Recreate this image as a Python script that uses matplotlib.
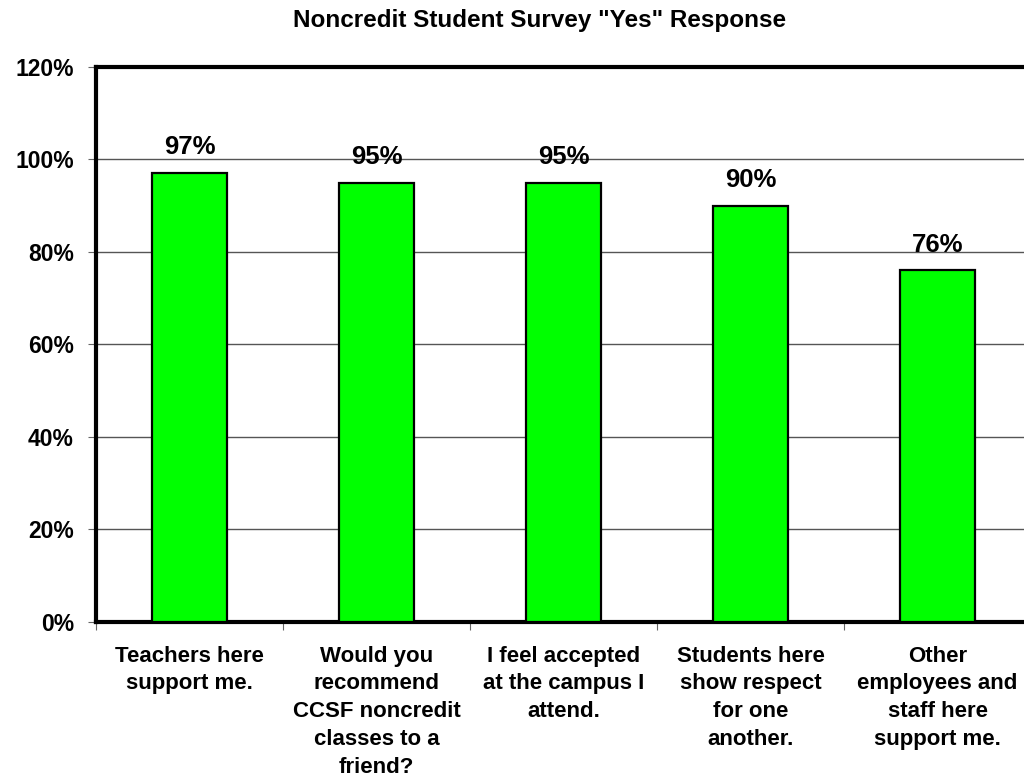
import matplotlib
matplotlib.use("Agg")
import matplotlib.pyplot as plt
from matplotlib.ticker import MultipleLocator, FuncFormatter

plt.rcParams['font.family'] = ['Liberation Sans', 'DejaVu Sans']
plt.rcParams['font.weight'] = 'bold'

categories = [
    "Teachers here\nsupport me.",
    "Would you\nrecommend\nCCSF noncredit\nclasses to a\nfriend?",
    "I feel accepted\nat the campus I\nattend.",
    "Students here\nshow respect\nfor one\nanother.",
    "Other\nemployees and\nstaff here\nsupport me.",
]
yes_pct = [97, 95, 95, 90, 76]
title = 'Noncredit Student Survey "Yes" Response'

fig = plt.figure(figsize=(10.24, 7.77), dpi=100)
ax = fig.add_axes([0.09375, 0.1995, 0.9131, 0.7143])

x = list(range(len(categories)))
bars = ax.bar(x, yes_pct, width=0.4, color='#00ff00', edgecolor='black',
              linewidth=1.6, zorder=3)

for xi, v in zip(x, yes_pct):
    ax.annotate(f"{v}%", (xi, v), xytext=(0, 10), textcoords='offset points',
                ha='center', va='bottom', fontsize=18.5, fontweight='bold')

ax.set_xlim(-0.5, len(categories) - 0.5)
ax.set_ylim(0, 120)
ax.yaxis.set_major_locator(MultipleLocator(20))
ax.yaxis.set_major_formatter(FuncFormatter(lambda v, p: f"{int(v)}%"))
ax.yaxis.grid(True, color='#555555', linewidth=1.0, zorder=0)

ax.set_xticks([i - 0.5 for i in range(len(categories) + 1)])
ax.set_xticklabels([])
ax.set_xticks(x, minor=True)
ax.set_xticklabels(categories, minor=True, fontsize=16, fontweight='bold',
                   linespacing=1.43)
ax.tick_params(axis='x', which='minor', length=0, pad=17)
ax.tick_params(axis='x', which='major', length=6, color='#666666', direction='out')
ax.tick_params(axis='y', length=6, color='#666666', direction='out',
               labelsize=16.5, pad=10)
for lab in ax.get_yticklabels():
    lab.set_fontweight('bold')

for side in ['top', 'left', 'bottom', 'right']:
    ax.spines[side].set_linewidth(3)
    ax.spines[side].set_color('black')

fig.text(0.527, 0.973, title, ha='center', va='center', fontsize=17.5,
         fontweight='bold')

fig.savefig("out.png", dpi=100, facecolor='white')
